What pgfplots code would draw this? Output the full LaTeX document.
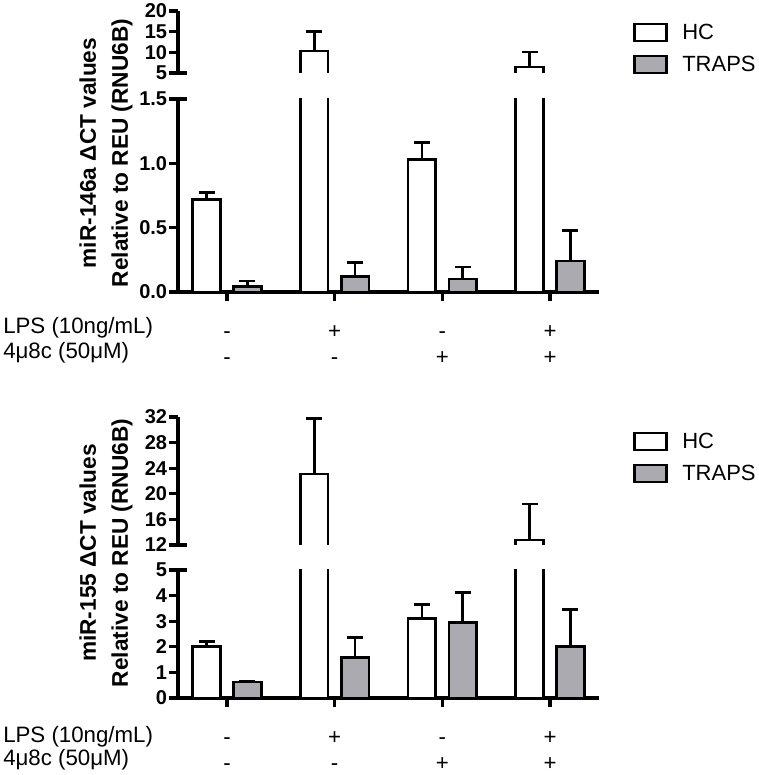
\documentclass[border=0pt]{standalone}
\usepackage{pgfplots}
\pgfplotsset{compat=1.18}
\usepackage{fontspec}
\setmainfont{Liberation Sans}
\definecolor{trapsgray}{RGB}{170,170,176}

\pgfplotsset{
  thickax/.style={
    every outer x axis line/.append style={-, line width=2.5pt, black},
    every inner x axis line/.append style={-, line width=2.5pt, black},
    every outer y axis line/.append style={-, line width=2.5pt, black},
    every inner y axis line/.append style={-, line width=2.5pt, black},
    x axis line style={-, line width=2.5pt, black},
    y axis line style={-, line width=2.5pt, black},
    every tick/.append style={line width=2.5pt, black},
    every major tick/.append style={line width=2.5pt, black},
    every extra y tick/.append style={line width=2.5pt, black},
  },
  brk/.style={
    scale only axis, width=315.75pt,
    xmin=-0.455, xmax=3.455,
    anchor=south west,
    axis y line=left,
    tick align=outside,
    ytick align=outside,
    major tick length=7pt,
    yticklabel style={font=\fontsize{15}{18}\selectfont\bfseries, inner sep=1pt},
    /pgf/number format/assume math mode=true,
    extra y tick style={major tick length=12.75pt, tick align=center},
    extra y tick labels={},
    ybar,
    legend image code/.code={\draw[#1, line width=2pt] (0pt,-6.4pt) rectangle (24pt,6.4pt);},
    legend style={draw=none, fill=none, font=\fontsize{16.5}{19}\selectfont, row sep=7pt, inner sep=0pt,
      /tikz/every odd column/.append style={column sep=9pt}},
    legend cell align=left,
  },
  lowx/.style={
    axis x line=bottom,
    xtick align=outside,
    xtick={0,1,2,3},
    xticklabels={{\strut-\\\strut-},{\strut+\\\strut-},{\strut-\\\strut+},{\strut+\\\strut+}},
    xticklabel style={align=center, font=\fontsize{16.7}{19.5}\selectfont, inner sep=0pt, yshift=-14pt},
    thickax,
  },
  upx/.style={axis x line=none, xtick=\empty, thickax},
  ebars/.style={error bars/.cd, y dir=plus, y explicit,
    error bar style={line width=2pt, draw=black},
    error mark options={rotate=90, line width=2pt, mark size=6pt, draw=black}},
  hc/.style={ybar, draw=black, fill=white, line width=2pt, bar shift=-0.19, bar width=0.255, ebars},
  tr/.style={ybar, draw=black, fill=trapsgray, line width=2pt, bar shift=0.19, bar width=0.255, ebars},
  hcerr/.style={ybar, draw=none, fill=none, bar shift=-0.19, bar width=0.255, ebars},
  outline/.style={sharp plot, no marks, draw=black, line width=2pt, fill=none},
}

\begin{document}
\begin{tikzpicture}
\useasboundingbox (0,0) rectangle (568.5pt,581.25pt);

% ---------------- Top panel: miR-146a ----------------
\begin{axis}[brk, lowx, at={(133.5pt,362.25pt)}, height=144.75pt,
  ymin=0, ymax=1.5, ytick={0,0.5,1,1.5}, extra y ticks={1.5},
  yticklabel style={/pgf/number format/.cd, fixed, fixed zerofill, precision=1},
  legend style={at={(axis description cs:1.08,1.405)}, anchor=north west}]
\addplot[hc] coordinates {(0,0.72) +- (0,0.055) (1,10.3) +- (0,4.7) (2,1.03) +- (0,0.13) (3,6.45) +- (0,3.6)};
\addplot[tr] coordinates {(0,0.045) +- (0,0.04) (1,0.12) +- (0,0.11) (2,0.10) +- (0,0.095) (3,0.24) +- (0,0.24)};
\legend{HC,TRAPS}
\end{axis}

\begin{axis}[brk, upx, at={(133.5pt,526.5pt)}, height=46.5pt,
  ymin=5, ymax=20, ytick={5,10,15,20}, extra y ticks={5}]
\addplot[hcerr] coordinates {(1,10.3) +- (0,4.7) (3,6.45) +- (0,3.6)};
\addplot[outline] coordinates {(0.6825,0) (0.6825,10.3) (0.9375,10.3) (0.9375,0)};
\addplot[outline] coordinates {(2.6825,0) (2.6825,6.45) (2.9375,6.45) (2.9375,0)};
\end{axis}

\node[rotate=90, align=center, font=\fontsize{17}{24}\selectfont\bfseries] at (79.5pt,466.5pt) {miR-146a ΔCT values\\Relative to REU (RNU6B)};
\node[anchor=west, inner sep=0pt, font=\fontsize{16.7}{19.5}\selectfont] at (2.25pt,335.25pt) {LPS (10ng/mL)};
\node[anchor=west, inner sep=0pt, font=\fontsize{16.7}{19.5}\selectfont] at (2.25pt,316.5pt) {4μ8c (50μM)};

% ---------------- Bottom panel: miR-155 ----------------
\begin{axis}[brk, lowx, at={(133.5pt,57.75pt)}, height=96pt,
  ymin=0, ymax=5, ytick={0,1,2,3,4,5}, extra y ticks={5},
  legend style={at={(axis description cs:1.08,2.095)}, anchor=north west}]
\addplot[hc] coordinates {(0,2.0) +- (0,0.22) (1,23.1) +- (0,8.7) (2,3.11) +- (0,0.55) (3,12.8) +- (0,5.6)};
\addplot[tr] coordinates {(0,0.62) +- (0,0.05) (1,1.57) +- (0,0.79) (2,2.95) +- (0,1.18) (3,2.0) +- (0,1.46)};
\legend{HC,TRAPS}
\end{axis}

\begin{axis}[brk, upx, at={(133.5pt,172.5pt)}, height=96pt,
  ymin=12, ymax=32, ytick={12,16,20,24,28,32}, extra y ticks={12}]
\addplot[hcerr] coordinates {(1,23.1) +- (0,8.7) (3,12.8) +- (0,5.6)};
\addplot[outline] coordinates {(0.6825,0) (0.6825,23.1) (0.9375,23.1) (0.9375,0)};
\addplot[outline] coordinates {(2.6825,0) (2.6825,12.8) (2.9375,12.8) (2.9375,0)};
\end{axis}

\node[rotate=90, align=center, font=\fontsize{17}{24}\selectfont\bfseries] at (79.5pt,166.5pt) {miR-155 ΔCT values\\Relative to REU (RNU6B)};
\node[anchor=west, inner sep=0pt, font=\fontsize{16.7}{19.5}\selectfont] at (2.25pt,28.5pt) {LPS (10ng/mL)};
\node[anchor=west, inner sep=0pt, font=\fontsize{16.7}{19.5}\selectfont] at (2.25pt,11.25pt) {4μ8c (50μM)};
\end{tikzpicture}
\end{document}
